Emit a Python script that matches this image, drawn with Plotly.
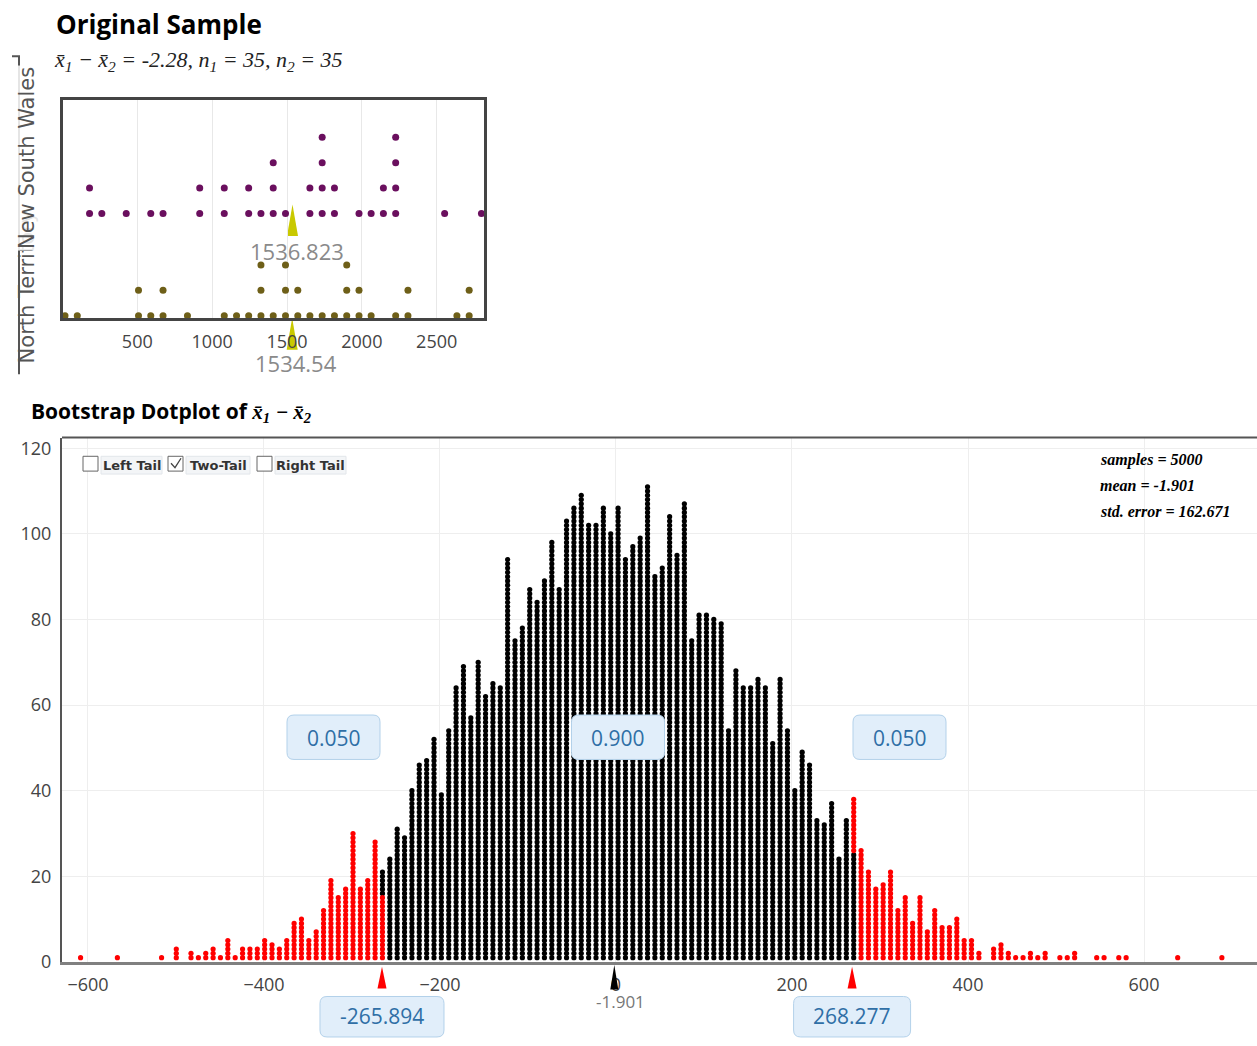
import plotly.graph_objects as go
from collections import Counter

W, H = 1257, 1046

# ---------------- data ----------------
group_names = ["New South Wales", "North Territory"]
nsw_values = [181, 181, 263, 426, 590, 672, 917, 917, 1081, 1081, 1244, 1244, 1326,
              1408, 1408, 1408, 1490, 1653, 1653, 1735, 1735, 1735, 1735, 1817, 1817,
              1981, 2062, 2144, 2144, 2226, 2226, 2226, 2226, 2553, 2799]
nt_values = [17, 99, 508, 508, 590, 672, 672, 835, 1081, 1163, 1244, 1326, 1326, 1326,
             1408, 1490, 1490, 1490, 1572, 1572, 1653, 1735, 1817, 1899, 1899, 1899,
             1981, 1981, 2062, 2226, 2308, 2308, 2635, 2717, 2717]
nsw_mean = 1536.823
nt_mean = 1534.54
diff_stat = "-2.28"
n1, n2 = 35, 35
top_ticks = [500, 1000, 1500, 2000, 2500]

boot_first_bin = -608.4      # centre of the first dot column
boot_bin_width = 8.367       # width of a dot column
boot_counts = [
    1, 0, 0, 0, 0, 1, 0, 0, 0, 0, 0, 1, 0, 3, 0, 2, 1, 2, 3, 1, 5, 1, 3, 3, 3, 5, 4, 3, 5,
    9, 10, 5, 7, 12, 19, 15, 17, 30, 17, 19, 28,
    21, 24, 31, 29, 40, 46, 47, 52, 39, 54, 64, 69, 57, 70, 62, 65, 64, 94, 75, 78, 87,
    84, 89, 98, 87, 103, 106, 109, 102, 102, 106, 100, 106, 94, 97, 99, 111, 90,
    92, 104, 95, 107, 75, 81, 81, 80, 79, 54, 68, 64, 64, 66, 64, 51, 66, 54, 40, 49,
    46, 33, 32, 37, 24, 33, 38,
    26, 21, 17, 18, 21, 12, 15, 9, 15, 7, 12, 8, 8, 10, 5, 5, 2, 0, 3, 4, 2, 1, 1, 2, 1,
    2, 0, 1, 1, 2, 0, 0, 1, 1, 0, 1, 1, 0, 0, 0, 0, 0, 0, 1, 0, 0, 0, 0, 0, 1]
boot_samples = 5000
boot_mean = -1.901
boot_se = 162.671
ci_low = -265.894
ci_high = 268.277
tail_props = [0.050, 0.900, 0.050]
boot_xticks = [-600, -400, -200, 0, 200, 400, 600]
boot_yticks = [0, 20, 40, 60, 80, 100, 120]

# ---------------- geometry (pixels) ----------------
T_L, T_R, T_T, T_B = 63, 484, 99, 320
B_L, B_R, B_T, B_B = 62, 1257, 441, 972
TX = [3.67, 2816.0]
TY = [-0.09, 8.51]
BX = [-629.5, 728.4]
BY = [0, 122.5]
t_upp = (TX[1] - TX[0]) / (T_R - T_L)
b_upp = (BX[1] - BX[0]) / (B_R - B_L)
NSW_BASE, NT_BASE = 4.03, 0.0


def X(p):
    return p / W


def Y(p):
    return 1 - p / H


# ---------------- stacked dots ----------------
def stack(values, base):
    seen = Counter()
    xs, ys = [], []
    for v in sorted(values):
        xs.append(v)
        ys.append(base + seen[v])
        seen[v] += 1
    return xs, ys


nsw_x, nsw_y = stack(nsw_values, NSW_BASE)
nt_x, nt_y = stack(nt_values, NT_BASE)

n_left = round(tail_props[0] * boot_samples)
n_right = round(tail_props[2] * boot_samples)
blk_x, blk_y, red_x, red_y = [], [], [], []
idx = 0
for k, c in enumerate(boot_counts):
    xc = boot_first_bin + k * boot_bin_width
    for j in range(c):
        if idx < n_left or idx >= boot_samples - n_right:
            red_x.append(xc); red_y.append(j + 1)
        else:
            blk_x.append(xc); blk_y.append(j + 1)
        idx += 1

fig = go.Figure()
fig.add_trace(go.Scatter(x=nsw_x, y=nsw_y, mode="markers", xaxis="x", yaxis="y",
                         marker=dict(size=7, color="#6a0f5e"), cliponaxis=False,
                         hoverinfo="x"))
fig.add_trace(go.Scatter(x=nt_x, y=nt_y, mode="markers", xaxis="x", yaxis="y",
                         marker=dict(size=7, color="#6e5f18"), cliponaxis=False,
                         hoverinfo="x"))
fig.add_trace(go.Scatter(x=blk_x, y=blk_y, mode="markers", xaxis="x2", yaxis="y2",
                         marker=dict(size=5.2, color="#000000"), hoverinfo="x"))
fig.add_trace(go.Scatter(x=red_x, y=red_y, mode="markers", xaxis="x2", yaxis="y2",
                         marker=dict(size=5.2, color="#ff0000"), hoverinfo="x"))

tickfont = dict(family="Open Sans, Liberation Sans, sans-serif", size=18, color="#444")

fig.update_layout(
    width=W, height=H, autosize=False, margin=dict(l=0, r=0, t=0, b=0),
    paper_bgcolor="white", plot_bgcolor="white", showlegend=False,
    xaxis=dict(domain=[X(T_L), X(T_R)], range=TX, tickvals=top_ticks,
               showgrid=True, gridcolor="#e8e8e8", zeroline=False,
               showline=True, mirror=True, linecolor="#444", linewidth=3,
               ticks="", tickfont=tickfont, ticklabelstandoff=5, anchor="y"),
    yaxis=dict(domain=[Y(T_B), Y(T_T)], range=TY, showticklabels=False,
               showgrid=False, zeroline=False, showline=True, mirror=True,
               linecolor="#444", linewidth=3, ticks="", anchor="x"),
    xaxis2=dict(domain=[X(B_L), X(B_R)], range=BX, tickvals=boot_xticks,
                showgrid=True, gridcolor="#eeeeee", zeroline=False,
                showline=True, linecolor="#808080", linewidth=3, ticks="",
                tickfont=tickfont, ticklabelstandoff=4, anchor="y2"),
    yaxis2=dict(domain=[Y(B_B), Y(B_T)], range=BY, tickvals=boot_yticks,
                showgrid=True, gridcolor="#eeeeee", zeroline=False,
                showline=True, linecolor="#555", linewidth=2, ticks="",
                tickfont=tickfont, ticklabelstandoff=5, anchor="x2"),
)

shapes = []
ann = []


def note(x, y, text, font, xref="paper", xanchor="center", **kw):
    d = dict(x=x, y=y, xref=xref, yref="paper", text=text, showarrow=False,
             font=font, xanchor=xanchor, yanchor="middle")
    d.update(kw)
    ann.append(d)


# top border of the bootstrap panel
shapes.append(dict(type="line", xref="paper", yref="paper", x0=X(B_L), x1=1,
                   y0=Y(B_T), y1=Y(B_T), line=dict(color="#555", width=2)))

# bracket at far left of the sample panel
shapes.append(dict(type="path", xref="paper", yref="paper",
                   path=f"M {X(12)},{Y(55)} L {X(19)},{Y(55)} L {X(19)},{Y(377)}",
                   line=dict(color="#555", width=2)))

# mean triangles (top)
for m, ya, yb in [(nsw_mean, 205, 237), (nt_mean, 320, 352)]:
    shapes.append(dict(type="path", xref="x", yref="paper", layer="below",
                       path=f"M {m - 5.5 * t_upp},{Y(yb)} L {m},{Y(ya)} L {m + 5.5 * t_upp},{Y(yb)} Z",
                       fillcolor="#c9c900", line=dict(width=0)))

valfont = dict(family="Open Sans, Liberation Sans, sans-serif", size=22, color="#8a8a8a")
note(nsw_mean, Y(252), f"{nsw_mean:.3f}", valfont, xref="x", xshift=4)
note(nt_mean, Y(366), f"{nt_mean:.2f}", valfont, xref="x", xshift=4)

# group labels (rotated)
labfont = dict(family="DejaVu Sans, sans-serif", size=21, color="#555")
note(X(27), Y(289), group_names[1], labfont, textangle=-90)
note(X(27), Y(158), group_names[0], labfont, textangle=-90,
     bgcolor="rgba(255,255,255,0.85)")

# titles
note(X(54), Y(22), "<b>Original Sample</b>",
     dict(family="Open Sans, Noto Sans, sans-serif", size=26, color="#000"), xanchor="left")
note(X(52), Y(60),
     (f"<i>x\u0304<sub>1</sub> \u2212 x\u0304<sub>2</sub> = {diff_stat}, "
      f"n<sub>1</sub> = {n1}, n<sub>2</sub> = {n2}</i>"),
     dict(family="Liberation Serif, serif", size=22, color="#222"), xanchor="left")
note(X(29), Y(415),
     ("<b>Bootstrap Dotplot of </b><span style='font-family:Liberation Serif'>"
      "<b><i>x\u0304<sub>1</sub> \u2212 x\u0304<sub>2</sub></i></b></span>"),
     dict(family="Open Sans, Noto Sans, sans-serif", size=21, color="#000"), xanchor="left")

# stats
statfont = dict(family="Liberation Serif, serif", size=16, color="#000")
for txt, yy in [(f"samples = {boot_samples}", 464), (f"mean = {boot_mean}", 490),
                (f"std. error = {boot_se}", 516)]:
    note(X(1098), Y(yy), f"<b><i>{txt}</i></b>", statfont, xanchor="left")

# checkboxes
cbfont = dict(family="DejaVu Sans, sans-serif", size=13, color="#333")
for sx, lx0, lx1, label in [(83, 101, 162, "Left Tail"), (168, 186, 250, "Two-Tail"),
                            (257, 275, 346, "Right Tail")]:
    shapes.append(dict(type="rect", xref="paper", yref="paper", x0=X(sx), x1=X(sx + 15),
                       y0=Y(475), y1=Y(460), line=dict(color="#666", width=1),
                       fillcolor="white"))
    shapes.append(dict(type="rect", xref="paper", yref="paper", x0=X(lx0), x1=X(lx1),
                       y0=Y(478), y1=Y(460), line=dict(color="#e2e6ea", width=1),
                       fillcolor="#f3f5f7"))
    note(X((lx0 + lx1) / 2), Y(469.5), f"<b>{label}</b>", cbfont)
shapes.append(dict(type="path", xref="paper", yref="paper",
                   path=f"M {X(171)},{Y(467)} L {X(175)},{Y(471.5)} L {X(181)},{Y(462)}",
                   line=dict(color="#444", width=1.3)))


# rounded label boxes
def rbox(xc, xupp, hw, y0, y1, xref, r=7):
    xl, xr, rx = xc - hw * xupp, xc + hw * xupp, r * xupp
    yt, yb, ry = Y(y0), Y(y1), r / H
    path = (f"M {xl + rx},{yt} L {xr - rx},{yt} Q {xr},{yt} {xr},{yt - ry} "
            f"L {xr},{yb + ry} Q {xr},{yb} {xr - rx},{yb} L {xl + rx},{yb} "
            f"Q {xl},{yb} {xl},{yb + ry} L {xl},{yt - ry} Q {xl},{yt} {xl + rx},{yt} Z")
    return dict(type="path", xref=xref, yref="paper", path=path,
                fillcolor="#e1eefa", line=dict(color="#b3d1ea", width=1))


boxfont = dict(family="Open Sans, Liberation Sans, sans-serif", size=21, color="#2f6fa6")
for cx, p in zip([333.5, 618, 899.5], tail_props):
    shapes.append(rbox(X(cx), 1 / W, 46.5, 722, 767, "paper"))
    note(X(cx), Y(745), f"{p:.3f}", boxfont)

for v, hw in [(ci_low, 62), (ci_high, 58.5)]:
    shapes.append(rbox(v, b_upp, hw, 1007, 1048, "x2"))
    note(v, Y(1027), f"{v:.3f}", boxfont, xref="x2")
    shapes.append(dict(type="path", xref="x2", yref="paper",
                       path=f"M {v - 4.5 * b_upp},{Y(999)} L {v},{Y(977)} L {v + 4.5 * b_upp},{Y(999)} Z",
                       fillcolor="#ff0000", line=dict(width=0)))

# bootstrap mean marker
shapes.append(dict(type="path", xref="x2", yref="paper",
                   path=f"M {boot_mean - 4 * b_upp},{Y(1000)} L {boot_mean},{Y(975)} L {boot_mean + 4 * b_upp},{Y(1000)} Z",
                   fillcolor="#000", line=dict(width=0)))
note(boot_mean, Y(1012), f"{boot_mean}",
     dict(family="Open Sans, Liberation Sans, sans-serif", size=17, color="#777"),
     xref="x2", xshift=6)

fig.update_layout(shapes=shapes, annotations=ann)
fig.write_html("out.html")
